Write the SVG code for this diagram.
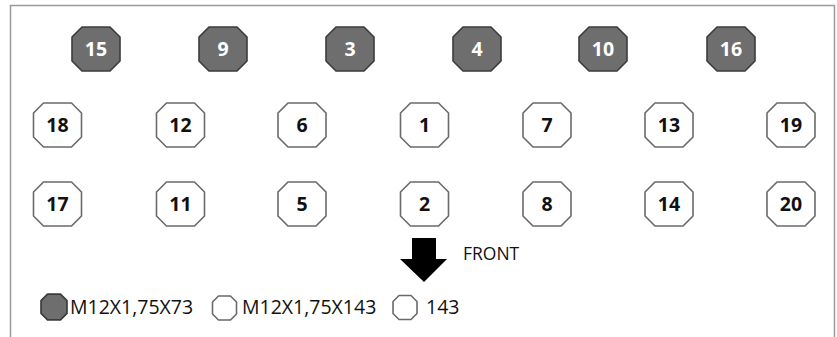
<svg xmlns="http://www.w3.org/2000/svg" width="837" height="337" viewBox="0 0 837 337">
<defs>
<style>
.frame{fill:#fff;stroke:#9a9a9a;stroke-width:1.5}
.oct{stroke-width:1.6;stroke-linejoin:round}
.dark .oct{fill:#6e6e6e;stroke:#3c3c3c}
.light .oct{fill:#fff;stroke:#6a6a6a}
.num{font-family:"Open Sans","Liberation Sans",sans-serif;font-weight:bold;font-size:19.5px;text-anchor:middle}
.dark .num{fill:#fff}
.light .num{fill:#111}
.lbl{font-family:"Open Sans","Liberation Sans",sans-serif;font-size:19.5px;fill:#111}
.front{font-family:"Open Sans","Liberation Sans",sans-serif;font-size:17.5px;fill:#111}
</style>
<polygon id="o" points="-14,-22 14,-22 24,-12 24,12 14,22 -14,22 -24,12 -24,-12"/>
<polygon id="s" points="-6,-12 6,-12 12,-6 12,6 6,12 -6,12 -12,6 -12,-6"/>
</defs>
<rect class="frame" x="10.5" y="5.5" width="824" height="345"/>
<g id="connectors"/>
<g id="n15" class="dark" transform="translate(96,49)"><use href="#o" class="oct"/><text class="num" y="7">15</text></g>
<g id="n9" class="dark" transform="translate(223,49)"><use href="#o" class="oct"/><text class="num" y="7">9</text></g>
<g id="n3" class="dark" transform="translate(350,49)"><use href="#o" class="oct"/><text class="num" y="7">3</text></g>
<g id="n4" class="dark" transform="translate(477,49)"><use href="#o" class="oct"/><text class="num" y="7">4</text></g>
<g id="n10" class="dark" transform="translate(603,49)"><use href="#o" class="oct"/><text class="num" y="7">10</text></g>
<g id="n16" class="dark" transform="translate(731,49)"><use href="#o" class="oct"/><text class="num" y="7">16</text></g>
<g id="n18" class="light" transform="translate(57.5,125)"><use href="#o" class="oct"/><text class="num" y="7">18</text></g>
<g id="n12" class="light" transform="translate(180.5,125)"><use href="#o" class="oct"/><text class="num" y="7">12</text></g>
<g id="n6" class="light" transform="translate(302,125)"><use href="#o" class="oct"/><text class="num" y="7">6</text></g>
<g id="n1" class="light" transform="translate(424.5,125)"><use href="#o" class="oct"/><text class="num" y="7">1</text></g>
<g id="n7" class="light" transform="translate(547,125)"><use href="#o" class="oct"/><text class="num" y="7">7</text></g>
<g id="n13" class="light" transform="translate(669,125)"><use href="#o" class="oct"/><text class="num" y="7">13</text></g>
<g id="n19" class="light" transform="translate(791,125)"><use href="#o" class="oct"/><text class="num" y="7">19</text></g>
<g id="n17" class="light" transform="translate(57.5,204)"><use href="#o" class="oct"/><text class="num" y="7">17</text></g>
<g id="n11" class="light" transform="translate(180.5,204)"><use href="#o" class="oct"/><text class="num" y="7">11</text></g>
<g id="n5" class="light" transform="translate(302,204)"><use href="#o" class="oct"/><text class="num" y="7">5</text></g>
<g id="n2" class="light" transform="translate(424.5,204)"><use href="#o" class="oct"/><text class="num" y="7">2</text></g>
<g id="n8" class="light" transform="translate(547,204)"><use href="#o" class="oct"/><text class="num" y="7">8</text></g>
<g id="n14" class="light" transform="translate(669,204)"><use href="#o" class="oct"/><text class="num" y="7">14</text></g>
<g id="n20" class="light" transform="translate(791,204)"><use href="#o" class="oct"/><text class="num" y="7">20</text></g>
<g id="front">
<polygon points="412,238 436,238 436,259 447,259 424,282 400,259 412,259" fill="#000"/>
<text class="front" x="463" y="260">FRONT</text>
</g>
<g id="legend">
<g class="dark" transform="translate(54,307)"><use href="#s" class="oct" transform="scale(1.08,1.08)"/></g>
<text class="lbl" x="70" y="314">M12X1,75X73</text>
<g class="light" transform="translate(224.5,308)"><use href="#s" class="oct"/></g>
<text class="lbl" x="242" y="314">M12X1,75X143</text>
<g class="light" transform="translate(405,307.5)"><use href="#s" class="oct"/></g>
<text class="lbl" x="426" y="314">143</text>
</g>
</svg>
